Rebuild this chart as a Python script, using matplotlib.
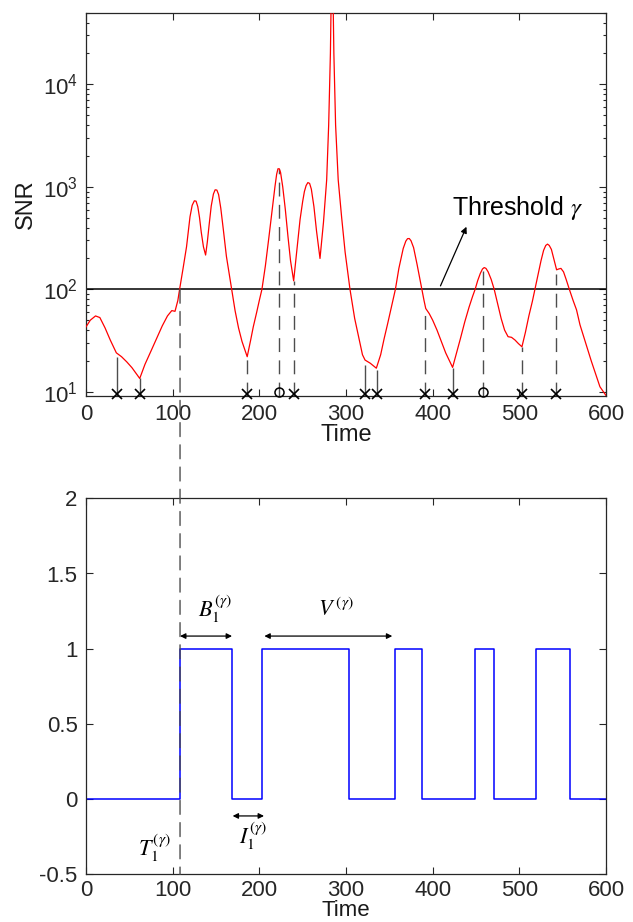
import matplotlib
matplotlib.use("Agg")
import matplotlib.pyplot as plt
from matplotlib.patches import ConnectionPatch
import numpy as np

plt.rcParams['font.family'] = ['Liberation Sans', 'DejaVu Sans']
plt.rcParams['mathtext.fontset'] = 'stix'
plt.rcParams['axes.unicode_minus'] = False

# ---------------- data ----------------
snr_time = [0, 5, 11, 16, 22, 28, 35, 41, 47, 53, 58, 62, 68, 75, 82, 88, 94, 99, 102.7, 106, 108,
            112, 116, 120, 122.5, 125, 127, 129, 131, 133, 135.5, 138, 140, 142, 144.5, 147, 149,
            151, 153, 155.5, 158.5, 162, 165, 168, 172, 176, 180, 186, 190, 193, 197, 200, 203,
            207, 211, 215, 218, 220, 221.5, 223, 224.5, 227, 230, 233, 236, 239.6, 243, 247, 250,
            252, 254, 256, 258, 260, 263, 266, 270, 274, 277.7, 280, 282, 284, 286, 288, 291, 295,
            299, 304.6, 310, 315, 319, 322, 328, 335, 340, 344, 348, 352, 357, 361, 366, 369, 371,
            373, 375, 378, 382, 387, 390, 392, 396, 400, 405, 410, 415, 420, 423, 427, 432, 437,
            442, 446, 449, 452, 455, 457.5, 459.5, 461.5, 464, 467.5, 471, 475, 479, 483, 487, 491,
            495, 499, 503, 507, 511, 515, 518, 522, 525, 528, 530.5, 532.5, 534.5, 537, 540, 543,
            545.5, 548, 551, 554, 557.7, 562, 566, 570, 574, 578, 583, 588, 593, 597, 600]
snr_value = [43, 50, 55, 53, 42, 32, 24, 22, 19.6, 17.2, 15, 13.5, 18.5, 25, 34, 44, 55, 62, 61, 78,
             100, 160, 260, 510, 660, 730, 725, 640, 500, 360, 260, 216, 290, 420, 650, 850, 935,
             930, 840, 620, 380, 210, 145, 100, 62, 42, 31, 22, 32, 43, 60, 78, 100,
             170, 320, 620, 1000, 1330, 1500, 1500, 1380, 1000, 600, 330, 190, 121, 230, 480, 720,
             900, 1030, 1100, 1080, 950, 640, 370, 200, 450, 1170, 4000, 20000, 300000, 20000,
             4000, 1170, 500, 230, 100, 52, 33, 23, 20.4, 19, 17, 23, 33, 46, 65, 100, 160, 250,
             295, 312, 313, 298, 255, 175, 105, 78, 65, 58, 50, 40, 31, 24, 19.5, 17.3, 23, 33,
             48, 67, 85, 100, 122, 143, 158, 163, 160, 148, 125, 100, 72, 52, 40, 34.5, 34, 32,
             29.5, 27.5, 38, 55, 76, 100, 145, 190, 240, 268, 276, 268, 245, 195, 155, 158, 160,
             148, 125, 100, 78, 63, 45, 35, 27, 20, 15, 11.2, 10, 9.2]

threshold = 100

solid_event_time = [35.4, 62.3, 322, 335.4, 423]
solid_event_top = [22, 13.5, 18.2, 16.3, 16.9]
dashed_event_time = [185.8, 222.7, 239.6, 391, 458.5, 502.7, 542.3]
dashed_event_top = [21, 1500, 120, 63, 150, 27.5, 140]

x_mark_time = [35.4, 62.3, 185.8, 239.6, 322, 335.4, 391, 423, 502.7, 542.3]
o_mark_time = [222.7, 458.5]

first_crossing = 108.5

up_times = [108.5, 203.5, 356.5, 448.8, 518.8]
down_times = [168.5, 304.0, 387.3, 470.8, 558.5]

# ---------------- figure ----------------
W, H = 633, 922
fig = plt.figure(figsize=(W / 100, H / 100), dpi=100)
ax1 = fig.add_axes([86 / W, 1 - 396 / H, 520 / W, (396 - 12.7) / H])
ax2 = fig.add_axes([86 / W, 1 - 874.3 / H, 520 / W, (874.3 - 498.3) / H])

dash = (0, (10, 6))
gray = '0.3'

# top panel
ax1.set_yscale('log')
ax1.plot(snr_time, snr_value, color='red', lw=0.9, zorder=3)
ax1.axhline(threshold, color='black', lw=1.1, zorder=2)
ybot = 9.1
ax1.vlines(solid_event_time, ybot, solid_event_top, colors=gray, lw=1.0, zorder=2)
ax1.vlines(dashed_event_time, ybot, dashed_event_top, colors=gray, lw=1.0,
           linestyles=[dash] * len(dashed_event_time), zorder=2)
ax1.plot(x_mark_time, [9.6] * len(x_mark_time), ls='none', marker='x', ms=6.5, mew=1.2,
         color='black', zorder=4, clip_on=False)
ax1.plot(o_mark_time, [10.0] * len(o_mark_time), ls='none', marker='o', ms=6.5, mew=1.1,
         mfc='none', mec='black', zorder=4, clip_on=False)

ax1.set_xlim(0, 600)
ax1.set_ylim(ybot, 5e4)
ax1.set_xticks(range(0, 601, 100))
ax1.set_ylabel('SNR', fontsize=17, labelpad=4)
ax1.set_xlabel('Time', fontsize=17, labelpad=-1)

ax1.annotate('', xy=(439, 408), xytext=(409, 108),
             arrowprops=dict(arrowstyle='-|>', color='black', lw=0.9, mutation_scale=9,
                             shrinkA=0, shrinkB=0))
ax1.text(422, 532, r'Threshold $\gamma$', fontsize=18, ha='left', va='baseline')

# bottom panel
bx = [0]
by = [0]
for u, d in zip(up_times, down_times):
    bx += [u, d]
    by += [1, 0]
bx.append(600)
by.append(0)
ax2.step(bx, by, where='post', color='blue', lw=1.1)
ax2.set_xlim(0, 600)
ax2.set_ylim(-0.5, 2)
ax2.set_xticks(range(0, 601, 100))
ax2.set_yticks([-0.5, 0, 0.5, 1, 1.5, 2])
ax2.set_yticklabels(['-0.5', '0', '0.5', '1', '1.5', '2'])
ax2.set_xlabel('Time', fontsize=16, va='bottom')
ax2.xaxis.set_label_coords(0.5, -(921 - 874.3) / 376)

arr = dict(arrowstyle='<|-|>', color='black', lw=0.9, mutation_scale=8, shrinkA=0, shrinkB=0)
ax2.annotate('', xy=(108.5, 1.084), xytext=(168.5, 1.084), arrowprops=arr)
ax2.annotate('', xy=(205.8, 1.084), xytext=(353.4, 1.084), arrowprops=arr)
ax2.annotate('', xy=(169.2, -0.112), xytext=(205.4, -0.112), arrowprops=arr)
ax2.text(148.8, 1.26, r'$B_1^{(\gamma)}$', fontsize=16, ha='center', va='center')
ax2.text(288.5, 1.26, r'$V^{\,(\gamma)}$', fontsize=16, ha='center', va='center')
ax2.text(193, -0.25, r'$I_1^{(\gamma)}$', fontsize=16, ha='center', va='center')
ax2.text(78.5, -0.33, r'$T_1^{(\gamma)}$', fontsize=16, ha='center', va='center')

for ax in (ax1, ax2):
    ax.tick_params(which='both', direction='in', top=True, right=True, labelsize=16,
                   colors='0.15', width=0.8)
    ax.tick_params(which='major', length=5, pad=6)
    ax.tick_params(which='minor', length=2.5)
    for s in ax.spines.values():
        s.set_color('0.15')
        s.set_linewidth(0.9)
    ax.xaxis.label.set_color('0.1')
    ax.yaxis.label.set_color('0.1')
ax2.tick_params(axis='x', which='major', pad=4)

# dashed line linking first threshold crossing across both panels
con = ConnectionPatch(xyA=(first_crossing, threshold), coordsA=ax1.transData,
                      xyB=(first_crossing, -0.5), coordsB=ax2.transData,
                      linestyle=dash, color=gray, lw=1.0, zorder=5)
fig.add_artist(con)

fig.savefig('out.png', dpi=100)
